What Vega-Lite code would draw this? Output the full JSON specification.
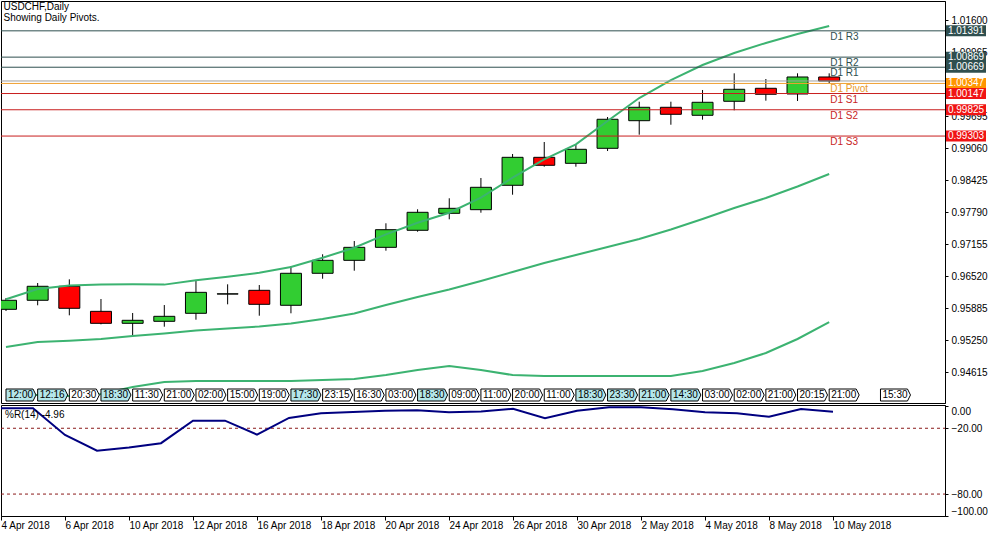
{
  "$schema": "https://vega.github.io/schema/vega-lite/v6.json",
  "padding": 0,
  "background": "white",
  "spacing": 0,
  "config": {
    "font": "Liberation Sans",
    "view": {"stroke": "black", "strokeWidth": 1},
    "axis": {"labelFont": "Liberation Sans", "labelFontSize": 10, "labelColor": "black", "domainColor": "black", "tickColor": "black", "grid": false}
  },
  "datasets": {
    "bars": [
      {"i": 0, "d": "2018-04-04", "o": 0.95865, "h": 0.96089, "l": 0.95831, "c": 0.96044, "up": 0.96064, "mid": 0.95117, "lo": 0.94165, "wpr": -1.8},
      {"i": 1, "d": "2018-04-05", "o": 0.96044, "h": 0.96387, "l": 0.95945, "c": 0.96322, "up": 0.96268, "mid": 0.95216, "lo": 0.94165, "wpr": -1.8},
      {"i": 2, "d": "2018-04-06", "o": 0.96322, "h": 0.96460, "l": 0.95746, "c": 0.95885, "up": 0.96337, "mid": 0.95242, "lo": 0.94145, "wpr": -26.1},
      {"i": 3, "d": "2018-04-09", "o": 0.95825, "h": 0.96070, "l": 0.95567, "c": 0.95587, "up": 0.96357, "mid": 0.95276, "lo": 0.94184, "wpr": -40.4},
      {"i": 4, "d": "2018-04-10", "o": 0.95587, "h": 0.95792, "l": 0.95355, "c": 0.95647, "up": 0.96361, "mid": 0.95335, "lo": 0.94323, "wpr": -37.6},
      {"i": 5, "d": "2018-04-11", "o": 0.95627, "h": 0.95950, "l": 0.95520, "c": 0.95726, "up": 0.96355, "mid": 0.95385, "lo": 0.94422, "wpr": -33.6},
      {"i": 6, "d": "2018-04-12", "o": 0.95786, "h": 0.96427, "l": 0.95659, "c": 0.96202, "up": 0.96441, "mid": 0.95444, "lo": 0.94442, "wpr": -13.1},
      {"i": 7, "d": "2018-04-13", "o": 0.96168, "h": 0.96361, "l": 0.95964, "c": 0.96172, "up": 0.96512, "mid": 0.95484, "lo": 0.94442, "wpr": -13.1},
      {"i": 8, "d": "2018-04-16", "o": 0.96242, "h": 0.96347, "l": 0.95738, "c": 0.95964, "up": 0.96591, "mid": 0.95524, "lo": 0.94442, "wpr": -25.8},
      {"i": 9, "d": "2018-04-17", "o": 0.95945, "h": 0.96724, "l": 0.95786, "c": 0.96580, "up": 0.96705, "mid": 0.95583, "lo": 0.94442, "wpr": -10.6},
      {"i": 10, "d": "2018-04-18", "o": 0.96580, "h": 0.96957, "l": 0.96472, "c": 0.96837, "up": 0.96889, "mid": 0.95673, "lo": 0.94462, "wpr": -6.4},
      {"i": 11, "d": "2018-04-19", "o": 0.96837, "h": 0.97220, "l": 0.96631, "c": 0.97095, "up": 0.97087, "mid": 0.95782, "lo": 0.94482, "wpr": -5.2},
      {"i": 12, "d": "2018-04-20", "o": 0.97095, "h": 0.97572, "l": 0.97028, "c": 0.97445, "up": 0.97353, "mid": 0.95950, "lo": 0.94561, "wpr": -4.0},
      {"i": 13, "d": "2018-04-23", "o": 0.97433, "h": 0.97850, "l": 0.97405, "c": 0.97790, "up": 0.97584, "mid": 0.96109, "lo": 0.94661, "wpr": -3.6},
      {"i": 14, "d": "2018-04-24", "o": 0.97770, "h": 0.98068, "l": 0.97651, "c": 0.97869, "up": 0.97782, "mid": 0.96258, "lo": 0.94740, "wpr": -5.5},
      {"i": 15, "d": "2018-04-25", "o": 0.97842, "h": 0.98471, "l": 0.97782, "c": 0.98286, "up": 0.98080, "mid": 0.96427, "lo": 0.94661, "wpr": -4.7},
      {"i": 16, "d": "2018-04-26", "o": 0.98326, "h": 0.98947, "l": 0.98139, "c": 0.98881, "up": 0.98477, "mid": 0.96605, "lo": 0.94561, "wpr": -2.2},
      {"i": 17, "d": "2018-04-27", "o": 0.98881, "h": 0.99185, "l": 0.98695, "c": 0.98723, "up": 0.98842, "mid": 0.96784, "lo": 0.94542, "wpr": -10.9},
      {"i": 18, "d": "2018-04-30", "o": 0.98762, "h": 0.99125, "l": 0.98695, "c": 0.99040, "up": 0.99139, "mid": 0.96943, "lo": 0.94542, "wpr": -4.0},
      {"i": 19, "d": "2018-05-01", "o": 0.99060, "h": 0.99681, "l": 0.99006, "c": 0.99636, "up": 0.99602, "mid": 0.97101, "lo": 0.94542, "wpr": -0.9},
      {"i": 20, "d": "2018-05-02", "o": 0.99608, "h": 0.99985, "l": 0.99330, "c": 0.99874, "up": 1.00058, "mid": 0.97260, "lo": 0.94542, "wpr": -0.9},
      {"i": 21, "d": "2018-05-03", "o": 0.99874, "h": 0.99985, "l": 0.99528, "c": 0.99735, "up": 1.00415, "mid": 0.97449, "lo": 0.94542, "wpr": -2.7},
      {"i": 22, "d": "2018-05-04", "o": 0.99715, "h": 1.00217, "l": 0.99628, "c": 0.99973, "up": 1.00713, "mid": 0.97657, "lo": 0.94641, "wpr": -5.5},
      {"i": 23, "d": "2018-05-07", "o": 0.99993, "h": 1.00548, "l": 0.99814, "c": 1.00231, "up": 1.00951, "mid": 0.97875, "lo": 0.94800, "wpr": -6.4},
      {"i": 24, "d": "2018-05-08", "o": 1.00251, "h": 1.00435, "l": 1.00005, "c": 1.00132, "up": 1.01150, "mid": 0.98074, "lo": 0.94998, "wpr": -9.5},
      {"i": 25, "d": "2018-05-09", "o": 1.00138, "h": 1.00548, "l": 0.99999, "c": 1.00475, "up": 1.01328, "mid": 0.98302, "lo": 0.95276, "wpr": -2.5},
      {"i": 26, "d": "2018-05-10", "o": 1.00475, "h": 1.00548, "l": 1.00356, "c": 1.00396, "up": 1.01487, "mid": 0.98550, "lo": 0.95613, "wpr": -4.96}
    ],
    "tags": [
      {"i": 0, "t": "12:00", "hl": true},
      {"i": 1, "t": "12:16", "hl": true},
      {"i": 2, "t": "20:30", "hl": false},
      {"i": 3, "t": "18:30", "hl": true},
      {"i": 4, "t": "11:30", "hl": false},
      {"i": 5, "t": "21:00", "hl": false},
      {"i": 6, "t": "02:00", "hl": false},
      {"i": 7, "t": "15:00", "hl": false},
      {"i": 8, "t": "19:00", "hl": false},
      {"i": 9, "t": "17:30", "hl": true},
      {"i": 10, "t": "23:15", "hl": false},
      {"i": 11, "t": "16:30", "hl": false},
      {"i": 12, "t": "03:00", "hl": false},
      {"i": 13, "t": "18:30", "hl": true},
      {"i": 14, "t": "09:00", "hl": false},
      {"i": 15, "t": "11:00", "hl": false},
      {"i": 16, "t": "20:00", "hl": false},
      {"i": 17, "t": "11:00", "hl": false},
      {"i": 18, "t": "18:30", "hl": true},
      {"i": 19, "t": "23:30", "hl": true},
      {"i": 20, "t": "21:00", "hl": true},
      {"i": 21, "t": "14:30", "hl": true},
      {"i": 22, "t": "03:00", "hl": false},
      {"i": 23, "t": "02:00", "hl": false},
      {"i": 24, "t": "21:00", "hl": false},
      {"i": 25, "t": "20:15", "hl": false},
      {"i": 26, "t": "21:00", "hl": false},
      {"i": 27.62, "t": "15:30", "hl": false}
    ],
    "pivots": [
      {"i": 26, "name": "D1 R3", "price": 1.01391, "kind": "R"},
      {"i": 26, "name": "D1 R2", "price": 1.00869, "kind": "R"},
      {"i": 26, "name": "D1 R1", "price": 1.00669, "kind": "R"},
      {"i": 26, "name": "D1 Pivot", "price": 1.00347, "kind": "P"},
      {"i": 26, "name": "D1 S1", "price": 1.00147, "kind": "S"},
      {"i": 26, "name": "D1 S2", "price": 0.99825, "kind": "S"},
      {"i": 26, "name": "D1 S3", "price": 0.99303, "kind": "S"}
    ]
  },
  "vconcat": [
    {
      "width": 944,
      "height": 402,
      "title": {
        "text": "USDCHF,Daily",
        "subtitle": "Showing Daily Pivots.",
        "anchor": "start",
        "orient": "top",
        "offset": -22,
        "dx": 3,
        "font": "Liberation Sans",
        "fontSize": 10,
        "fontWeight": "normal",
        "color": "black",
        "subtitleFont": "Liberation Sans",
        "subtitleFontSize": 10,
        "subtitleColor": "black",
        "subtitlePadding": 1
      },
      "resolve": {"scale": {"color": "independent", "fill": "independent", "stroke": "independent"}},
      "encoding": {
        "x": {"field": "i", "type": "quantitative", "scale": {"domain": [0, 29.5], "nice": false, "zero": false}, "axis": null}
      },
      "layer": [
        {
          "data": {"name": "bars"},
          "mark": {"type": "rule", "color": "black", "strokeWidth": 1, "clip": true},
          "encoding": {
            "y": {"field": "l", "type": "quantitative", "scale": {"domain": [0.94006, 1.01983], "nice": false, "zero": false},
              "axis": {"orient": "right", "title": null, "values": [0.94615, 0.9525, 0.95885, 0.9652, 0.97155, 0.9779, 0.98425, 0.9906, 0.99695, 1.00965, 1.016], "tickCount": 30, "format": ".5f", "tickSize": 3, "labelPadding": 3, "labelFlush": false, "labelOverlap": false}},
            "y2": {"field": "h"}
          }
        },
        {
          "data": {"name": "bars"},
          "mark": {"type": "bar", "width": 21, "stroke": "black", "strokeWidth": 1, "clip": true},
          "encoding": {
            "y": {"field": "o", "type": "quantitative"},
            "y2": {"field": "c"},
            "fill": {"condition": {"test": "datum.c >= datum.o", "value": "#32CD32"}, "value": "#FF0000"}
          }
        },
        {
          "data": {"name": "bars"},
          "mark": {"type": "line", "color": "#3CB371", "strokeWidth": 2, "clip": true},
          "encoding": {"y": {"field": "up", "type": "quantitative"}}
        },
        {
          "data": {"name": "bars"},
          "mark": {"type": "line", "color": "#3CB371", "strokeWidth": 2, "clip": true},
          "encoding": {"y": {"field": "mid", "type": "quantitative"}}
        },
        {
          "data": {"name": "bars"},
          "mark": {"type": "line", "color": "#3CB371", "strokeWidth": 2, "clip": true},
          "encoding": {"y": {"field": "lo", "type": "quantitative"}}
        },
        {
          "data": {"name": "pivots"},
          "mark": {"type": "rule", "strokeWidth": 1},
          "encoding": {
            "x": {"value": 0},
            "x2": {"value": "width"},
            "y": {"field": "price", "type": "quantitative"},
            "color": {"field": "kind", "type": "nominal", "scale": {"domain": ["R", "P", "S"], "range": ["#2F4F4F", "#F0A030", "#C81E1E"]}, "legend": null}
          }
        },
        {
          "data": {"name": "bars"},
          "transform": [{"filter": "datum.i == 26"}],
          "mark": {"type": "rule", "color": "#A0A0A0", "strokeWidth": 1},
          "encoding": {
            "x": {"value": 0},
            "x2": {"value": "width"},
            "y": {"field": "c", "type": "quantitative"}
          }
        },
        {
          "data": {"name": "pivots"},
          "mark": {"type": "text", "align": "left", "baseline": "top", "dx": 1, "dy": 1, "fontSize": 10, "font": "Liberation Sans"},
          "encoding": {
            "y": {"field": "price", "type": "quantitative"},
            "text": {"field": "name"},
            "color": {"field": "kind", "type": "nominal", "scale": {"domain": ["R", "P", "S"], "range": ["#2F4F4F", "#E89A2A", "#C81E1E"]}, "legend": null}
          }
        },
        {
          "data": {"name": "pivots"},
          "mark": {"type": "tick", "orient": "horizontal", "size": 40, "thickness": 11, "xOffset": 21, "opacity": 1, "clip": false},
          "encoding": {
            "x": {"value": "width"},
            "y": {"field": "price", "type": "quantitative"},
            "color": {"field": "kind", "type": "nominal", "scale": {"domain": ["R", "P", "S"], "range": ["#2F4F4F", "#FF9500", "#F01414"]}, "legend": null}
          }
        },
        {
          "data": {"name": "pivots"},
          "mark": {"type": "text", "align": "center", "baseline": "middle", "xOffset": 21, "fontSize": 10, "font": "Liberation Sans", "color": "white", "clip": false},
          "encoding": {
            "x": {"value": "width"},
            "y": {"field": "price", "type": "quantitative"},
            "text": {"field": "price", "type": "quantitative", "format": ".5f"}
          }
        },
        {
          "data": {"name": "tags"},
          "mark": {"type": "point", "shape": "M-1,-0.4L0.8,-0.4L1,0L0.8,0.4L-1,0.4Z", "size": 900, "filled": true, "stroke": "black", "strokeWidth": 1, "opacity": 1, "fillOpacity": 1, "strokeOpacity": 1, "xOffset": 15, "yOffset": -8},
          "encoding": {
            "y": {"value": "height"},
            "fill": {"condition": {"test": "datum.hl", "value": "#B4E6EA"}, "value": "white"}
          }
        },
        {
          "data": {"name": "tags"},
          "mark": {"type": "text", "align": "left", "baseline": "middle", "dx": 2, "yOffset": -8, "fontSize": 10, "font": "Liberation Sans", "color": "black"},
          "encoding": {
            "y": {"value": "height"},
            "text": {"field": "t"}
          }
        }
      ]
    },
    {
      "width": 944,
      "height": 111,
      "encoding": {
        "x": {"field": "i", "type": "quantitative", "scale": {"domain": [0, 29.5], "nice": false, "zero": false},
          "axis": {"orient": "bottom", "title": null, "values": [0, 2, 4, 6, 8, 10, 12, 14, 16, 18, 20, 22, 24, 26], "tickCount": 30,
            "labelExpr": "['4 Apr 2018','6 Apr 2018','10 Apr 2018','12 Apr 2018','16 Apr 2018','18 Apr 2018','20 Apr 2018','24 Apr 2018','26 Apr 2018','30 Apr 2018','2 May 2018','4 May 2018','8 May 2018','10 May 2018'][datum.value / 2]",
            "labelAlign": "left", "labelPadding": 0, "tickSize": 4, "labelFlush": false, "labelOverlap": false, "labelBound": false}}
      },
      "layer": [
        {
          "data": {"values": [{"v": -20}, {"v": -80}]},
          "mark": {"type": "rule", "color": "#8B1A1A", "strokeWidth": 1, "strokeDash": [3, 3]},
          "encoding": {
            "x": {"value": 0},
            "x2": {"value": "width"},
            "y": {"field": "v", "type": "quantitative", "scale": {"domain": [-100, 1.2], "nice": false, "zero": false},
              "axis": {"orient": "right", "title": null, "values": [0, -20, -80, -100], "tickCount": 30, "format": ".2f", "tickSize": 3, "labelPadding": 3, "labelFlush": 4, "labelOverlap": false}}
          }
        },
        {
          "data": {"name": "bars"},
          "mark": {"type": "line", "color": "#000080", "strokeWidth": 2, "clip": true},
          "encoding": {"y": {"field": "wpr", "type": "quantitative"}}
        },
        {
          "data": {"values": [{"i": 0, "v": 0, "t": "%R(14) -4.96"}]},
          "mark": {"type": "text", "align": "left", "baseline": "top", "dx": 4, "dy": 4, "fontSize": 10, "font": "Liberation Sans", "color": "black"},
          "encoding": {
            "y": {"field": "v", "type": "quantitative"},
            "text": {"field": "t"}
          }
        }
      ]
    }
  ]
}
